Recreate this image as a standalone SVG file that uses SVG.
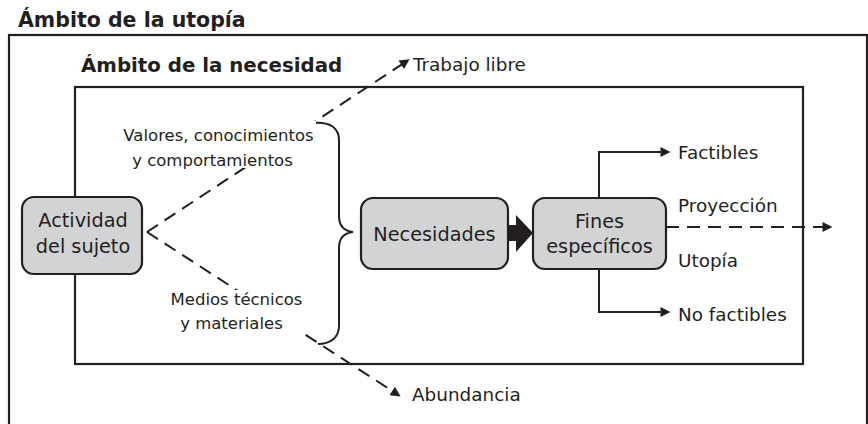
<svg xmlns="http://www.w3.org/2000/svg" width="868" height="424" viewBox="0 0 868 424">
<style>
.frame{fill:none;stroke:#231f20;stroke-width:2.2}
.box{fill:#d1d3d4;stroke:#231f20;stroke-width:2.2}
.t{font-family:"DejaVu Sans","Liberation Sans",sans-serif;fill:#231f20}
.title{font-weight:bold}
.bt{font-size:19.3px;text-anchor:middle}
.lbl{font-size:16.5px;text-anchor:middle}
.rl{font-size:18.4px}
.dash{fill:none;stroke:#231f20;stroke-width:2;stroke-dasharray:13 8}
.solid{fill:none;stroke:#231f20;stroke-width:2}
.halo{stroke:#fff;stroke-width:4;paint-order:stroke;stroke-linejoin:round}
</style>
<defs>
<marker id="ah" viewBox="0 0 10 10" refX="4.5" refY="5" markerWidth="11" markerHeight="10" markerUnits="userSpaceOnUse" orient="auto">
<path d="M0,0 L10,5 L0,10 z" fill="#231f20"/>
</marker>
</defs>
<rect width="868" height="424" fill="#fff"/>
<g id="ambito-utopia">
<rect class="frame" x="9" y="35" width="858" height="400"/>
<text class="t title" x="18" y="27" font-size="20.5">Ámbito de la utopía</text>
</g>
<g id="ambito-necesidad">
<rect class="frame" x="75" y="87" width="728" height="277" stroke-width="2.6"/>
<text class="t title" x="81" y="72" font-size="19.8">Ámbito de la necesidad</text>
</g>
<g id="connectors">
<path class="dash" d="M147 232 L405 62.3" marker-end="url(#ah)"/>
<path class="dash" d="M147 232 L396 393.4" marker-end="url(#ah)"/>
<path class="dash" d="M666 227 H827" stroke-dasharray="12 8" marker-end="url(#ah)"/>
<path class="solid" d="M599 198 V152 H665" marker-end="url(#ah)"/>
<path class="solid" d="M599 269 V312 H665" marker-end="url(#ah)"/>
<path class="solid" d="M312 123 C330 121 339 128 339 140 L339 216 C339 226 344 231 353 232 C344 233 339 238 339 248 L339 326 C339 338 330 344 318 344"/>
<path d="M508 225 H516 V215 L533 233 L516 252 V241 H508 Z" fill="#231f20"/>
</g>
<g id="label-valores">
<rect x="120" y="121" width="196" height="33" fill="#fff"/>
<text class="t lbl" x="218.5" y="141">Valores, conocimientos</text>
<text class="t lbl halo" x="212.5" y="166">y comportamientos</text>
</g>
<g id="label-medios">
<rect x="166" y="290" width="136" height="41" fill="#fff"/>
<text class="t lbl" x="236.5" y="305">Medios técnicos</text>
<text class="t lbl" x="231.5" y="329">y materiales</text>
</g>
<g id="actividad">
<rect class="box" x="22" y="197" width="120" height="77" rx="12"/>
<text class="t bt" x="83" y="227">Actividad</text>
<text class="t bt" x="83" y="253">del sujeto</text>
</g>
<g id="necesidades">
<rect class="box" x="361" y="198" width="147" height="71" rx="12"/>
<text class="t bt" x="434.5" y="241">Necesidades</text>
</g>
<g id="fines">
<rect class="box" x="533" y="198" width="133" height="71" rx="12"/>
<text class="t bt" x="599.5" y="228">Fines</text>
<text class="t bt" x="599.5" y="253">específicos</text>
</g>
<g id="trabajo-libre"><text class="t rl" x="413" y="71">Trabajo libre</text></g>
<g id="abundancia"><text class="t rl" x="412" y="401">Abundancia</text></g>
<g id="factibles"><text class="t rl" x="678" y="159">Factibles</text></g>
<g id="proyeccion"><text class="t rl" x="678" y="212">Proyección</text></g>
<g id="utopia"><text class="t rl" x="678" y="267">Utopía</text></g>
<g id="no-factibles"><text class="t rl" x="678" y="321">No factibles</text></g>
</svg>
